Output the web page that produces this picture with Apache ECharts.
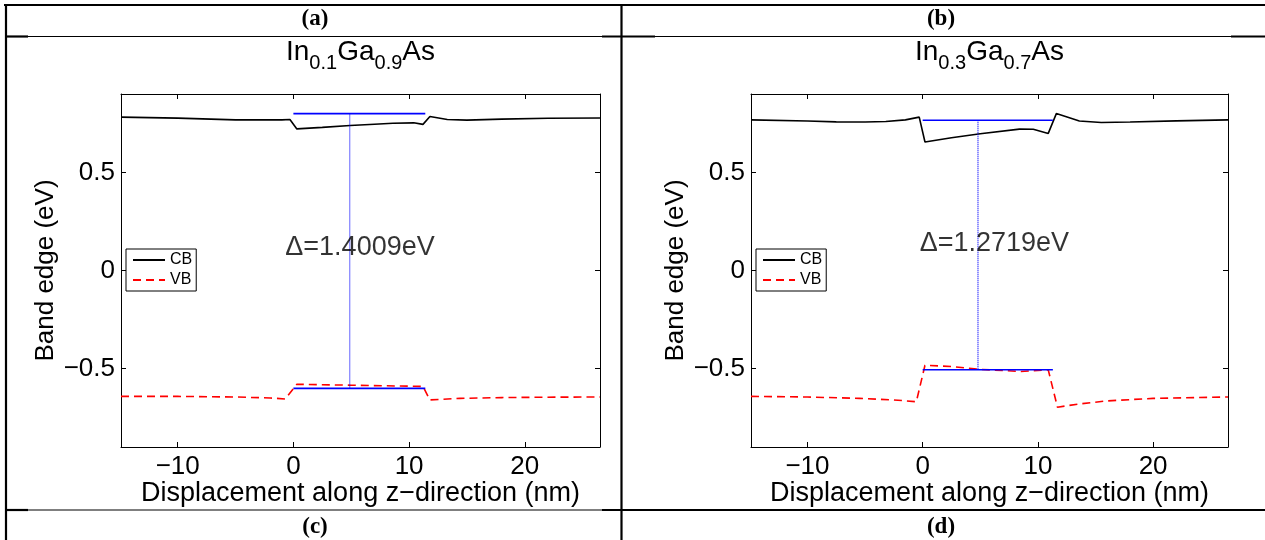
<!DOCTYPE html>
<html><head><meta charset="utf-8">
<script src="https://cdn.jsdelivr.net/npm/echarts@6/dist/echarts.min.js"></script>
<style>html,body{margin:0;padding:0;background:#fff}#c{width:1265px;height:540px}</style>
</head><body><div id="c"></div>
<script>
// ---- data ----
const xTicks = [-10, 0, 10, 20];
const yTicks = [-0.5, 0, 0.5];
const panelLabels = ['(a)', '(b)', '(c)', '(d)'];
const titlesIn = ['0.1', '0.3'];
const titlesGa = ['0.9', '0.7'];

// (a) In0.1Ga0.9As
const zCbA = [-14.9, -10, -5, -1, -0.3, 0.3, 2.5, 4.9, 7, 8.6, 10.4, 11.2, 11.8, 13.3, 15, 18, 22, 26.5];
const cbA  = [0.782, 0.777, 0.768, 0.768, 0.770, 0.722, 0.730, 0.739, 0.746, 0.751, 0.753, 0.745, 0.785, 0.770, 0.767, 0.772, 0.776, 0.778];
const zVbA = [-14.9, -10, -5, -2, -0.7, 0.3, 5, 11.2, 11.8, 14.4, 18, 22, 26.5];
const vbA  = [-0.642, -0.642, -0.645, -0.650, -0.655, -0.580, -0.585, -0.591, -0.660, -0.652, -0.648, -0.646, -0.645];
const wellA = [0, 11.4];
const gapA = [0.8, -0.6009];
const gapZA = 4.87;
const deltaA = 'Δ=1.4009eV';
const deltaPosA = [-0.7, 0.117];

// (b) In0.3Ga0.7As
const zCbB = [-14.9, -10, -7.5, -5, -3.2, -1.5, -0.3, 0.2, 2.5, 5, 8.4, 9.6, 10.9, 11.6, 13.6, 15.5, 18, 22, 26.5];
const cbB  = [0.768, 0.762, 0.758, 0.757, 0.760, 0.768, 0.782, 0.655, 0.677, 0.697, 0.721, 0.720, 0.699, 0.800, 0.762, 0.755, 0.757, 0.763, 0.768];
const zVbB = [-14.9, -10, -5.5, -2.5, -0.55, 0.2, 2.5, 5, 8.5, 10.9, 11.7, 13.5, 16, 20, 26.5];
const vbB  = [-0.642, -0.645, -0.652, -0.660, -0.669, -0.483, -0.490, -0.504, -0.515, -0.507, -0.697, -0.681, -0.665, -0.652, -0.645];
const wellB = [0, 11.3];
const gapB = [0.766, -0.5059];
const gapZB = 4.8;
const deltaB = 'Δ=1.2719eV';
const deltaPosB = [-0.26, 0.135];

// ---- build ----
const FONT = '"Liberation Sans", Arial, sans-serif';
const SERIF = '"Liberation Serif", "Times New Roman", serif';
const zip = (xs, ys) => xs.map((x, i) => [x, ys[i]]);
const fmt = v => (v < 0 ? '\u2212' + Math.abs(v) : String(v));
const XMIN = -14.9, XMAX = 26.5, YMIN = -0.9, YMAX = 0.9;

const grids = [
  { left: 121, top: 94, width: 479, height: 353 },
  { left: 751, top: 94, width: 477, height: 353 }
];

const xAxes = [], yAxes = [], series = [], legends = [], graphics = [];
const panels = [
  { zc: zCbA, cb: cbA, zv: zVbA, vb: vbA, well: wellA, gap: gapA, gz: gapZA, delta: deltaA, dpos: deltaPosA },
  { zc: zCbB, cb: cbB, zv: zVbB, vb: vbB, well: wellB, gap: gapB, gz: gapZB, delta: deltaB, dpos: deltaPosB }
];

panels.forEach((p, g) => {
  const tick = { show: true, inside: true, length: 5, lineStyle: { color: '#000', width: 1 } };
  xAxes.push({
    type: 'value', gridIndex: g, position: 'bottom', min: XMIN, max: XMAX,
    axisLine: { show: true, onZero: false, lineStyle: { color: '#000', width: 1 } },
    axisTick: Object.assign({ customValues: xTicks }, tick),
    axisLabel: { customValues: xTicks, formatter: fmt, color: '#000', fontSize: 26, fontFamily: FONT, margin: 7 },
    splitLine: { show: false },
    name: 'Displacement along z\u2212direction (nm)', nameLocation: 'middle', nameGap: 33,
    nameMoveOverlap: false,
    nameTextStyle: { color: '#000', fontSize: 27, fontFamily: FONT }
  });
  xAxes.push({
    type: 'value', gridIndex: g, position: 'top', min: XMIN, max: XMAX,
    axisLine: { show: true, onZero: false, lineStyle: { color: '#000', width: 1 } },
    axisTick: Object.assign({ customValues: xTicks }, tick),
    axisLabel: { show: false }, splitLine: { show: false }
  });
  yAxes.push({
    type: 'value', gridIndex: g, position: 'left', min: YMIN, max: YMAX,
    axisLine: { show: true, onZero: false, lineStyle: { color: '#000', width: 1 } },
    axisTick: Object.assign({ customValues: yTicks }, tick),
    axisLabel: { customValues: yTicks, formatter: fmt, color: '#000', fontSize: 26, fontFamily: FONT, margin: 6 },
    splitLine: { show: false },
    name: 'Band edge (eV)', nameLocation: 'middle', nameGap: 62,
    nameMoveOverlap: false,
    nameTextStyle: { color: '#000', fontSize: 26, fontFamily: FONT }
  });
  yAxes.push({
    type: 'value', gridIndex: g, position: 'right', min: YMIN, max: YMAX,
    axisLine: { show: true, onZero: false, lineStyle: { color: '#000', width: 1 } },
    axisTick: Object.assign({ customValues: yTicks }, tick),
    axisLabel: { show: false }, splitLine: { show: false }
  });
  const xi = g * 2, yi = g * 2;
  series.push({
    name: 'CB', type: 'line', xAxisIndex: xi, yAxisIndex: yi, symbol: 'none', color: '#000',
    lineStyle: { color: '#000', width: 1.6 }, data: zip(p.zc, p.cb), z: 3
  });
  series.push({
    name: 'VB', type: 'line', xAxisIndex: xi, yAxisIndex: yi, symbol: 'none', color: '#ff0000',
    lineStyle: { color: '#ff0000', width: 1.6, type: [8, 5] }, data: zip(p.zv, p.vb), z: 3
  });
  series.push({
    name: 'gapTop' + g, type: 'line', xAxisIndex: xi, yAxisIndex: yi, symbol: 'none',
    lineStyle: { color: '#0000ff', width: 1.6 }, data: zip(p.well, [p.gap[0], p.gap[0]]), z: 4
  });
  series.push({
    name: 'gapBot' + g, type: 'line', xAxisIndex: xi, yAxisIndex: yi, symbol: 'none',
    lineStyle: { color: '#0000ff', width: 1.6 }, data: zip(p.well, [p.gap[1], p.gap[1]]), z: 4
  });
  series.push({
    name: 'gapV' + g, type: 'line', xAxisIndex: xi, yAxisIndex: yi, symbol: 'none',
    lineStyle: { color: '#0000ff', width: 1.2, type: [1, 1] }, data: zip([p.gz, p.gz], p.gap), z: 4
  });
  series.push({
    name: 'delta' + g, type: 'scatter', xAxisIndex: xi, yAxisIndex: yi, symbolSize: 0,
    data: [p.dpos], silent: true, z: 5,
    label: { show: true, position: 'right', distance: 0, formatter: p.delta, color: '#000', fontSize: 27, fontFamily: FONT }
  });
  legends.push({
    data: ['CB', 'VB'], orient: 'vertical', left: grids[g].left + 5, top: 249,
    backgroundColor: '#fff', borderColor: '#000', borderWidth: 1, borderRadius: 0,
    padding: [3, 4, 3, 6], itemWidth: 32, itemHeight: 14, itemGap: 4, selectedMode: false,
    itemStyle: { opacity: 0 },
    textStyle: { color: '#000', fontSize: 16, fontFamily: FONT }
  });
  // title with subscripts
  graphics.push({
    type: 'text', x: grids[g].left + grids[g].width / 2, y: 44, z: 10,
    style: {
      text: '{m|In}{s|' + titlesIn[g] + '}{m|Ga}{s|' + titlesGa[g] + '}{m|As}',
      align: 'center', verticalAlign: 'top',
      rich: {
        m: { fontSize: 28, fontFamily: FONT, fill: '#000', lineHeight: 28, padding: [0, 0, 11, 0] },
        s: { fontSize: 20, fontFamily: FONT, fill: '#000', lineHeight: 20, padding: [11, 0, 0, 0] }
      }
    }
  });
});

// table frame
const L = (x1, y1, x2, y2, w) => ({ type: 'line', shape: { x1, y1, x2, y2 }, style: { stroke: '#000', lineWidth: w }, z: 20, silent: true });
graphics.push(L(4, 5, 1265, 5, 2.2));
graphics.push(L(6, 4, 6, 540, 2.2));
graphics.push(L(621.5, 4, 621.5, 540, 2.2));
graphics.push(L(5, 36.5, 28, 36.5, 2.2));
graphics.push(L(28, 36.5, 602, 36.5, 1.2));
graphics.push(L(602, 36.5, 655, 36.5, 2.2));
graphics.push(L(655, 36.5, 1231, 36.5, 1.2));
graphics.push(L(1231, 36.5, 1265, 36.5, 2.2));
graphics.push(L(5, 510, 28, 510, 2.2));
graphics.push(L(28, 510, 602, 510, 1.2));
graphics.push(L(602, 510, 1265, 510, 2.2));
const labelPos = [[315, 19], [941, 19], [315, 527], [941, 527]];
panelLabels.forEach((t, i) => {
  graphics.push({ type: 'text', x: labelPos[i][0], y: labelPos[i][1], z: 20,
    style: { text: t, align: 'center', verticalAlign: 'middle', fontSize: 23, fontWeight: 'bold', fontFamily: SERIF, fill: '#000' } });
});

const chart = echarts.init(document.getElementById('c'), null, { renderer: 'canvas' });
chart.setOption({
  animation: false,
  backgroundColor: '#fff',
  grid: grids.map(g => Object.assign({ show: false, containLabel: false }, g)),
  xAxis: xAxes, yAxis: yAxes, series, legend: legends, graphic: graphics
});
</script></body></html>
